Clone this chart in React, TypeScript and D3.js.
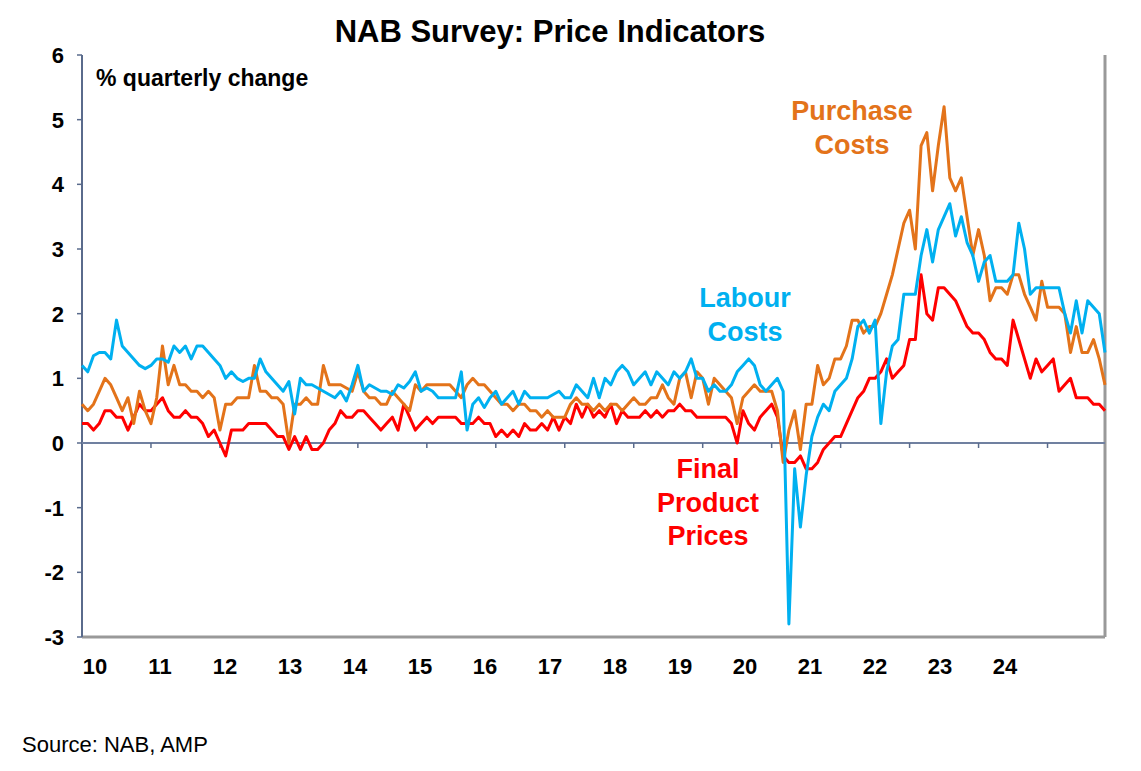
import React from "react";
import * as d3 from "d3";

const yearLabels = ["10","11","12","13","14","15","16","17","18","19","20","21","22","23","24"];
const yTicks = [-3,-2,-1,0,1,2,3,4,5,6];

const labour = [
  1.2,1.1,1.35,1.4,1.4,1.3,1.9,1.5,1.4,1.3,1.2,1.15,
  1.2,1.3,1.3,1.25,1.5,1.4,1.5,1.3,1.5,1.5,1.4,1.3,
  1.2,1.0,1.1,1.0,0.95,1.0,1.0,1.3,1.1,1.0,0.9,0.8,
  0.95,0.45,1.0,0.9,0.9,0.85,0.8,0.75,0.7,0.8,0.65,0.9,
  1.2,0.8,0.9,0.85,0.8,0.8,0.75,0.9,0.85,0.95,1.1,0.8,
  0.85,0.8,0.7,0.7,0.7,0.7,1.1,0.2,0.6,0.7,0.55,0.7,
  0.8,0.6,0.7,0.8,0.6,0.8,0.7,0.7,0.7,0.7,0.75,0.8,
  0.7,0.7,0.9,0.8,0.7,1.0,0.7,1.0,0.9,1.1,1.2,1.1,
  0.9,1.0,1.1,0.9,1.1,1.0,0.9,1.1,1.0,1.1,1.3,1.0,
  1.0,0.8,0.9,0.8,0.8,0.9,1.1,1.2,1.3,1.2,0.9,0.8,
  0.9,1.0,0.8,-2.8,-0.4,-1.3,-0.5,0.1,0.4,0.6,0.5,0.8,
  0.9,1.0,1.3,1.8,1.9,1.7,1.9,0.3,1.1,1.5,1.6,2.3,
  2.3,2.3,2.9,3.3,2.8,3.3,3.5,3.7,3.2,3.5,3.1,2.9,
  2.5,2.8,2.9,2.5,2.5,2.5,2.6,3.4,3.0,2.3,2.4,2.4,
  2.4,2.4,2.4,2.0,1.7,2.2,1.7,2.2,2.1,2.0,1.4
];
const purchase = [
  0.6,0.5,0.6,0.8,1.0,0.9,0.7,0.5,0.7,0.3,0.8,0.5,
  0.3,0.7,1.5,0.9,1.2,0.9,0.9,0.8,0.8,0.7,0.8,0.7,
  0.2,0.6,0.6,0.7,0.7,0.7,1.2,0.8,0.8,0.7,0.7,0.6,
  0.0,0.6,0.6,0.7,0.6,0.6,1.2,0.9,0.9,0.9,0.85,0.8,
  1.1,0.8,0.7,0.7,0.6,0.6,0.8,0.7,0.6,0.5,0.9,0.8,
  0.9,0.9,0.9,0.9,0.9,0.8,0.7,0.9,1.0,0.9,0.9,0.8,
  0.7,0.6,0.6,0.5,0.6,0.6,0.5,0.5,0.4,0.5,0.4,0.4,
  0.4,0.6,0.7,0.6,0.6,0.5,0.6,0.5,0.6,0.6,0.5,0.6,
  0.7,0.6,0.6,0.7,0.7,0.9,0.7,0.6,1.0,1.1,0.7,1.1,
  1.0,0.6,1.0,0.9,0.8,0.7,0.3,0.7,0.8,0.9,0.8,0.8,
  0.8,0.5,-0.3,0.2,0.5,-0.1,0.6,0.6,1.2,0.9,1.0,1.3,
  1.3,1.5,1.9,1.9,1.7,1.8,1.8,2.0,2.3,2.6,3.0,3.4,
  3.6,3.0,4.6,4.8,3.9,4.6,5.2,4.1,3.9,4.1,3.5,2.9,
  3.3,2.9,2.2,2.4,2.4,2.3,2.6,2.6,2.3,2.1,1.9,2.5,
  2.1,2.1,2.1,2.0,1.4,1.8,1.4,1.4,1.6,1.3,0.9
];
const finalPrices = [
  0.3,0.3,0.2,0.3,0.5,0.5,0.4,0.4,0.2,0.4,0.6,0.5,
  0.5,0.6,0.7,0.5,0.4,0.4,0.5,0.4,0.4,0.3,0.1,0.2,
  0.0,-0.2,0.2,0.2,0.2,0.3,0.3,0.3,0.3,0.2,0.1,0.1,
  -0.1,0.1,-0.1,0.1,-0.1,-0.1,0.0,0.2,0.3,0.5,0.4,0.4,
  0.5,0.5,0.4,0.3,0.2,0.3,0.4,0.2,0.6,0.4,0.2,0.3,
  0.4,0.3,0.4,0.4,0.4,0.4,0.3,0.3,0.3,0.4,0.3,0.3,
  0.1,0.2,0.1,0.2,0.1,0.3,0.2,0.2,0.3,0.2,0.4,0.2,
  0.4,0.3,0.6,0.4,0.6,0.4,0.5,0.4,0.6,0.3,0.5,0.4,
  0.4,0.4,0.5,0.4,0.5,0.4,0.5,0.5,0.6,0.5,0.5,0.4,
  0.4,0.4,0.4,0.4,0.4,0.3,0.0,0.5,0.3,0.2,0.4,0.5,
  0.6,0.4,-0.2,-0.3,-0.3,-0.2,-0.4,-0.4,-0.3,-0.1,0.0,0.1,
  0.1,0.3,0.5,0.7,0.8,1.0,1.0,1.1,1.3,1.0,1.1,1.2,
  1.6,1.6,2.6,2.0,1.9,2.4,2.4,2.3,2.2,2.0,1.8,1.7,
  1.7,1.6,1.4,1.3,1.3,1.2,1.9,1.6,1.3,1.0,1.3,1.1,
  1.2,1.3,0.8,0.9,1.0,0.7,0.7,0.7,0.6,0.6,0.5
];

const BLUE = "#00B0F0";
const ORANGE = "#E3731A";
const RED = "#FF0000";
const FONT = "Arial, 'Liberation Sans', sans-serif";

export default function App() {
  const L = 82, R = 1105, T = 55, B = 637;
  const x = d3.scaleLinear().domain([2010, 2010 + 178 / 12]).range([L, R]);
  const y = d3.scaleLinear().domain([-3, 6]).range([B, T]);
  const lab = d3.scalePoint<string>().domain(yearLabels).range([95, 1005]);
  const line = d3.line<number>().x((_, i) => x(2010 + i / 12)).y(d => y(d));
  const years = d3.range(2011, 2025);
  const txt = (s: string, px: number, py: number, color: string, anchor = "middle") => (
    <text x={px} y={py} fill={color} fontSize={27} fontWeight="bold" textAnchor={anchor} fontFamily={FONT}>{s}</text>
  );
  return (
    <svg width={1141} height={771} style={{ position: "absolute", left: 0, top: 0, background: "#fff" }}>
      <text x={550} y={42} fontSize={31} fontWeight="bold" textAnchor="middle" fontFamily={FONT}>NAB Survey: Price Indicators</text>
      <line x1={R} x2={R} y1={T} y2={B} stroke="#999" strokeWidth={3} />
      <line x1={L} x2={R} y1={B} y2={B} stroke="#999" strokeWidth={3} />
      <line x1={L} x2={L} y1={T} y2={B} stroke="#5a6b8c" strokeWidth={2} />
      {yTicks.map(t => (
        <g key={t}>
          <line x1={L - 5} x2={L} y1={y(t)} y2={y(t)} stroke="#5a6b8c" strokeWidth={1.5} />
          <text x={64} y={y(t) + 8} fontSize={22} fontWeight="bold" textAnchor="end" fontFamily={FONT}>{t}</text>
        </g>
      ))}
      <line x1={L} x2={R} y1={y(0)} y2={y(0)} stroke="#7080a0" strokeWidth={2} />
      {years.map(yr => (
        <line key={yr} x1={x(yr)} x2={x(yr)} y1={y(0)} y2={y(0) + 5} stroke="#5a6b8c" strokeWidth={1.5} />
      ))}
      {yearLabels.map(s => (
        <text key={s} x={lab(s)} y={674} fontSize={22} fontWeight="bold" textAnchor="middle" fontFamily={FONT}>{s}</text>
      ))}
      <path d={line(finalPrices) || ""} fill="none" stroke={RED} strokeWidth={3} strokeLinejoin="round" />
      <path d={line(purchase) || ""} fill="none" stroke={ORANGE} strokeWidth={3} strokeLinejoin="round" />
      <path d={line(labour) || ""} fill="none" stroke={BLUE} strokeWidth={3} strokeLinejoin="round" />
      <text x={96} y={86} fontSize={23} fontWeight="bold" fontFamily={FONT}>% quarterly change</text>
      {txt("Purchase", 852, 120, ORANGE)}
      {txt("Costs", 852, 154, ORANGE)}
      {txt("Labour", 745, 307, BLUE)}
      {txt("Costs", 745, 341, BLUE)}
      {txt("Final", 708, 478, RED)}
      {txt("Product", 708, 512, RED)}
      {txt("Prices", 708, 545, RED)}
      <text x={22} y={752} fontSize={22} fontFamily={FONT}>Source: NAB, AMP</text>
    </svg>
  );
}
